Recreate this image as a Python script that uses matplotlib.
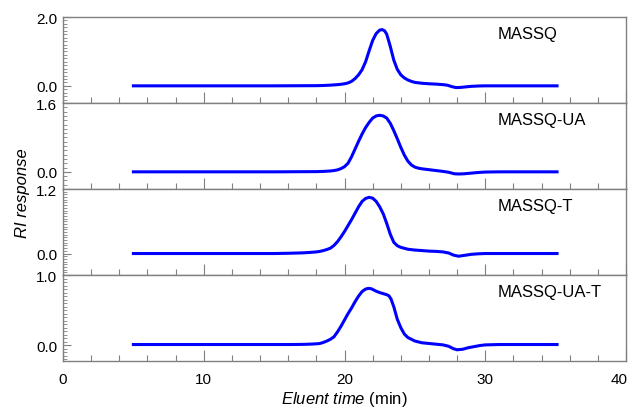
import numpy as np
import matplotlib.pyplot as plt
from matplotlib.ticker import MultipleLocator, FixedFormatter, FixedLocator

plt.rcParams['font.family'] = ['Liberation Sans', 'DejaVu Sans']
plt.rcParams['mathtext.fontset'] = 'custom'
plt.rcParams['mathtext.rm'] = 'Liberation Sans'
plt.rcParams['mathtext.it'] = 'Liberation Sans:italic'

# sample names and y-axis limits
names = ['MASSQ', 'MASSQ-UA', 'MASSQ-T', 'MASSQ-UA-T']
y_top = [2.0, 1.6, 1.2, 1.0]
y_bot = [-0.5, -0.4, -0.4, -0.225]
y_minor = [0.1, 0.1, 0.05, 0.05]
x_ticks = [0, 10, 20, 30, 40]
x_labels = ['0', '10', '20', '30', '40']

# MASSQ
t1 = [5, 10, 15, 18.0, 18.5, 19.0, 19.5, 19.75, 20.0, 20.25, 20.5, 20.75, 21.0, 21.25,
      21.5, 21.75, 22.0, 22.25, 22.5, 22.67, 22.85, 23.0, 23.25, 23.5, 23.75, 24.0,
      24.25, 24.5, 24.75, 25.0, 25.5, 26.0, 26.5, 27.0, 27.3, 27.6, 27.9, 28.2, 28.5,
      29.0, 29.5, 30, 32, 35.1]
y1 = [0, 0, 0, 0.005, 0.01, 0.02, 0.035, 0.045, 0.06, 0.085, 0.13, 0.21, 0.32, 0.47,
      0.70, 1.02, 1.32, 1.52, 1.62, 1.635, 1.60, 1.50, 1.15, 0.75, 0.48, 0.32,
      0.23, 0.17, 0.13, 0.10, 0.075, 0.06, 0.05, 0.035, 0.02, -0.02, -0.05, -0.048, -0.035,
      -0.015, -0.005, 0, 0, 0]

# MASSQ-UA
t2 = [5, 10, 15, 18.0, 18.5, 19.0, 19.25, 19.5, 19.75, 20.0, 20.25, 20.5, 20.75, 21.0,
      21.25, 21.5, 21.75, 22.0, 22.25, 22.5, 22.75, 23.0, 23.25, 23.5, 23.75, 24.0,
      24.25, 24.5, 24.75, 25.0, 25.25, 25.5, 26.0, 26.5, 27.0, 27.4, 27.8, 28.1, 28.5,
      29.0, 29.5, 30.0, 31, 35.1]
y2 = [0, 0, 0, 0.005, 0.01, 0.02, 0.03, 0.045, 0.075, 0.12, 0.2, 0.35, 0.53, 0.71,
      0.88, 1.03, 1.15, 1.25, 1.30, 1.315, 1.30, 1.25, 1.13, 0.96, 0.77, 0.57,
      0.39, 0.25, 0.16, 0.11, 0.085, 0.07, 0.05, 0.03, 0.01, -0.01, -0.045, -0.05, -0.045,
      -0.03, -0.015, -0.005, 0, 0]

# MASSQ-T
t3 = [5, 10, 15, 16.0, 17.0, 17.5, 18.0, 18.25, 18.5, 18.75, 19.0, 19.25, 19.5, 19.75,
      20.0, 20.25, 20.5, 20.75, 21.0, 21.25, 21.5, 21.75, 22.0, 22.25, 22.5, 22.75,
      23.0, 23.25, 23.5, 23.75, 24.0, 24.5, 25.0, 25.5, 26.0, 26.5, 27.0, 27.4, 27.75,
      28.1, 28.5, 29.0, 29.5, 30, 35.1]
y3 = [0, 0, 0, 0.005, 0.012, 0.02, 0.03, 0.04, 0.055, 0.075, 0.10, 0.15, 0.22, 0.31,
      0.41, 0.52, 0.63, 0.75, 0.87, 0.97, 1.025, 1.046, 1.03, 0.97, 0.87, 0.74,
      0.56, 0.36, 0.21, 0.145, 0.115, 0.08, 0.065, 0.055, 0.045, 0.04, 0.03, 0.01, -0.03,
      -0.05, -0.035, -0.015, -0.005, 0, 0]

# MASSQ-UA-T
t4 = [5, 10, 15, 16, 17, 17.5, 18.0, 18.25, 18.5, 18.75, 19.0, 19.25, 19.5, 19.75,
      20.0, 20.25, 20.5, 20.75, 21.0, 21.25, 21.5, 21.7, 21.9, 22.1, 22.3, 22.5, 22.75,
      23.0, 23.15, 23.3, 23.5, 23.75, 24.0, 24.25, 24.5, 24.75, 25.0, 25.5, 26.0, 26.5,
      27.0, 27.4, 27.75, 28.0, 28.4, 28.8, 29.2, 29.6, 30, 31, 35.1]
y4 = [0.01, 0.01, 0.01, 0.01, 0.012, 0.015, 0.02, 0.025, 0.04, 0.06, 0.085, 0.12, 0.19,
      0.27, 0.36, 0.45, 0.53, 0.62, 0.70, 0.765, 0.80, 0.81, 0.805, 0.785, 0.765, 0.75,
      0.735, 0.72, 0.705, 0.66, 0.55, 0.37, 0.25, 0.16, 0.11, 0.085, 0.06, 0.035, 0.025,
      0.015, 0.005, -0.015, -0.05, -0.065, -0.057, -0.035, -0.02, -0.005, 0.005, 0.01, 0.01]

times = [t1, t2, t3, t4]
resp = [y1, y2, y3, y4]

fig, axes = plt.subplots(4, 1, figsize=(6.32, 4.1), dpi=100, sharex=True)
fig.subplots_adjust(left=0.0997, right=0.9905, top=0.956, bottom=0.117, hspace=0)

grey = '#808080'
for i, ax in enumerate(axes):
    ax.plot(times[i], resp[i], color='#0000ff', lw=2.2, solid_joinstyle='round')
    ax.set_xlim(0, 40)
    ax.set_ylim(y_bot[i], y_top[i])
    ax.text(30.9, y_bot[i] + (y_top[i] - y_bot[i]) * 0.81, names[i], fontsize=12,
            va='center', ha='left')
    for s in ax.spines.values():
        s.set_color(grey)
        s.set_linewidth(1.0)
    ax.xaxis.set_major_locator(FixedLocator(x_ticks))
    ax.xaxis.set_minor_locator(MultipleLocator(2))
    ax.yaxis.set_major_locator(FixedLocator([0.0, y_top[i]]))
    ax.yaxis.set_major_formatter(FixedFormatter(['0.0', '%.1f' % y_top[i]]))
    ax.yaxis.set_minor_locator(MultipleLocator(y_minor[i]))
    ax.tick_params(axis='x', which='major', direction='in', length=8, width=0.8,
                   color=grey, labelsize=11, pad=8)
    ax.tick_params(axis='x', which='minor', direction='in', length=4, width=0.8,
                   color=grey)
    ax.tick_params(axis='y', which='major', direction='in', length=6, width=0.8,
                   color=grey, labelsize=11, pad=4)
    ax.tick_params(axis='y', which='minor', direction='in', length=3, width=0.6,
                   color=grey)
    ax.tick_params(top=False, right=False)

# last label "40" sits a bit left of its tick so it stays inside the figure
bottom = axes[-1]
bottom.xaxis.set_major_formatter(FixedFormatter(x_labels[:-1] + ['']))
bottom.annotate(x_labels[-1], xy=(x_ticks[-1], 0), xycoords=bottom.get_xaxis_transform(),
                xytext=(-5, -8), textcoords='offset points', ha='center', va='top',
                fontsize=11)

fig.text(0.035, 0.53, 'RI response', rotation=90, fontsize=12, style='italic',
         ha='center', va='center')
bottom.set_xlabel(r'$\it{Eluent\ time}$ (min)', fontsize=12, labelpad=2)

plt.savefig('out.png', dpi=100)
